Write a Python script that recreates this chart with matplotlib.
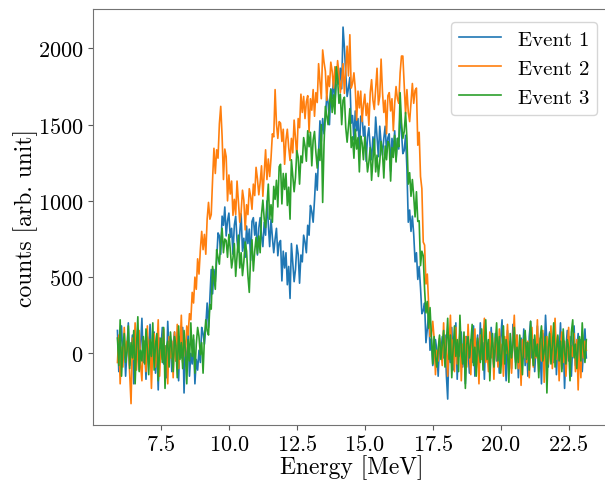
import numpy as np
import matplotlib
matplotlib.use("Agg")
import matplotlib.pyplot as plt

# energy grid: first bin and bin width [MeV]
e_start = 5.9
e_step = 0.05

series_names = ["Event 1", "Event 2", "Event 3"]

# counts, one row per MeV (20 bins)
event1 = [
    150, -120, 60, 180, -40, 90, -150, 30, 200, -80, 10, 120, -200, 70, -30, 160, -110, 40, 230, -60,
    80, -170, 110, -20, 190, -90, 20, 140, -130, 60, -240, 100, 30, 170, -70, 50, -160, 210, -10, 90,
    -120, 60, 140, -50, 20, -180, 110, -30, 170, -260, 40, -90, 130, -150, 0, -70, 90, -200, -40, -110,
    20, -60, 170, 130, 60, 180, 330, 170, 360, 550, 390, 550, 470, 610, 790, 770, 650, 900, 840, 960,
    770, 870, 920, 760, 820, 650, 840, 900, 740, 665, 790, 915, 670, 755, 630, 835, 720, 815, 610, 865,
    890, 775, 860, 645, 820, 890, 770, 700, 860, 775, 1000, 850, 700, 880, 760, 660, 750, 820, 640, 725,
    740, 475, 670, 560, 660, 450, 570, 360, 720, 595, 470, 550, 710, 650, 460, 645, 600, 775, 730, 660,
    840, 775, 970, 930, 860, 1005, 1180, 1070, 1310, 1525, 1390, 1540, 1440, 1545, 1690, 1645, 1500, 1735, 1670, 1810,
    1640, 1780, 1880, 1765, 1870, 1735, 2140, 2005, 1830, 1685, 1740, 1810, 1510, 1560, 1400, 1590, 1460, 1540, 1320, 1555,
    1560, 1425, 1490, 1260, 1420, 1480, 1350, 1270, 1420, 1330, 1550, 1420, 1290, 1490, 1380, 1300, 1410, 1490, 1320, 1415,
    1440, 1195, 1410, 1330, 1460, 1270, 1410, 1340, 1590, 1450, 1310, 1330, 1430, 1210, 860, 940, 800, 900, 780, 600,
    660, 485, 570, 430, 260, 280, 330, 70, 160, 265, 20, 95, -80, -15, 90, 20, -150, 70, -10, 110,
    -30, 120, -140, -300, 80, -60, 170, -110, 30, 200, -170, 60, -20, 140, -90, 40, -200, 110, 10, -130,
    90, -60, 180, -150, 30, 120, -80, 200, -20, 70, -170, 140, -40, 60, -110, 170, 0, -90, 130, -50,
    50, -130, 100, 220, -70, 30, -180, 150, -20, 80, -100, 190, 40, -60, 120, -160, 20, 100, -40, 160,
    -80, 70, -150, 110, 210, -30, 90, -120, 40, 180, -70, 20, -200, 130, -10, 250, 60, -90, 140, -40,
    100, -60, 170, -140, 50, -20, 200, -100, 80, -230, 30, 150, -50, 110, -150, 60, 180, -80, 20, 130,
    -70, 90, -120, 40, 160, -30,
]

event2 = [
    -60, 120, -200, 40, -90, 170, -20, 80, 60, -140, -330, 100, -40, 200, -110, 30, 150, -70, -180, 90,
    20, -120, 180, -60, 90, -230, 40, 130, -90, 10, 220, -150, 70, -40, 160, -100, 50, -200, 110, -30,
    80, -160, 140, -50, 190, -100, 30, 250, -60, 110, -20, 180, 120, 260, 220, 400, 330, 500, 420, 620,
    520, 680, 800, 680, 780, 650, 880, 990, 880, 910, 1140, 1345, 1180, 1335, 1280, 1505, 1620, 1425, 1140, 1340,
    1290, 1000, 1170, 1045, 1130, 905, 1010, 910, 1130, 995, 860, 925, 1070, 1005, 810, 975, 910, 1080, 1030, 945,
    1110, 1035, 1220, 1145, 1040, 1120, 1230, 1030, 1180, 1335, 1140, 1275, 1160, 1280, 1440, 1420, 1730, 1505, 1410, 1520,
    1510, 1390, 1470, 1240, 1400, 1470, 1350, 1265, 1410, 1315, 1530, 1410, 1290, 1540, 1480, 1700, 1580, 1685, 1540, 1650,
    1690, 1450, 1670, 1595, 1730, 1555, 1710, 1645, 1900, 1785, 1670, 1990, 1910, 1850, 1660, 1820, 1750, 1910, 1850, 1740,
    1880, 1770, 1920, 1830, 1710, 1790, 1900, 1705, 1860, 2015, 1820, 2090, 1740, 1770, 1840, 1735, 1530, 1720, 1610, 1720,
    1520, 1630, 1700, 1560, 1640, 1495, 1710, 1795, 1660, 1600, 1740, 1870, 1630, 1685, 1930, 1715, 1580, 1660, 1440, 1690,
    1710, 1590, 1670, 1460, 1640, 1750, 1670, 1640, 1840, 1950, 1950, 1760, 1570, 1730, 1580, 1520, 1650, 1770, 1640, 1725,
    1740, 1365, 1450, 1160, 1080, 730, 710, 455, 520, 315, 110, 120, 210, 100, -140, 20, -50, 100, 30, -80,
    200, -60, 100, -150, 40, 250, -20, 90, -120, 170, -70, 30, 140, -180, 60, -30, 110, -90, 190, -10,
    -140, 80, 30, 160, -100, 50, -200, 120, -40, 90, 230, -60, 10, -120, 140, -30, 70, -170, 100, 40,
    -90, 160, -20, 60, -150, 110, 0, 190, -70, 30, -130, 80, 250, -40, 120, -100, 50, -210, 90, -30,
    130, -60, 80, -160, 20, 170, -90, 60, -30, 220, -120, 100, -50, 150, -190, 40, 110, -70, 10, 180,
    -100, 60, 230, -40, 110, -180, 30, 140, -60, 80, -150, 20, 170, -90, 50, -20, 130, -120, 90, -240,
    60, -160, 120, -30, 80, 20,
]

event3 = [
    100, -80, 220, -150, 40, 130, -60, 10, 180, -100, 70, -30, 150, -200, 50, 240, -120, 20, -50, 110,
    -70, 160, 30, -140, 90, -20, 200, -110, 60, 130, -180, 20, 100, -60, 170, -230, 40, 80, -90, 140,
    30, -120, 110, 50, -160, 180, -40, 70, -100, 150, 10, -200, 90, -50, 200, -20, 120, -130, 60, 170,
    110, -10, 70, -130, 100, 220, 150, 120, 320, 290, 570, 495, 420, 680, 630, 585, 730, 820, 660, 750,
    740, 630, 780, 685, 560, 625, 720, 505, 640, 775, 560, 660, 510, 600, 730, 670, 510, 400, 640, 745,
    540, 670, 760, 655, 770, 660, 910, 1005, 880, 825, 970, 1110, 880, 975, 860, 1095, 1010, 1135, 960, 1225,
    1240, 980, 1180, 1075, 1180, 970, 1090, 880, 1270, 1165, 1060, 1155, 1330, 1285, 1110, 1295, 1250, 1415, 1360, 1260,
    1460, 1355, 1450, 1230, 1400, 1455, 1320, 1215, 1340, 1265, 1500, 990, 1370, 1620, 1560, 1500, 1630, 1730, 1580, 1695,
    1570, 1880, 1800, 1640, 1700, 1500, 1660, 1680, 1480, 1385, 1490, 1605, 1350, 1420, 1280, 1470, 1340, 1415, 1190, 1425,
    1380, 1270, 1420, 1320, 1190, 1255, 1350, 1135, 1270, 1405, 1190, 1300, 1160, 1255, 1390, 1320, 1150, 1360, 1270, 1390,
    1370, 1130, 1350, 1285, 1430, 1255, 1410, 1355, 1710, 1515, 1410, 1455, 1580, 1410, 1110, 1185, 1030, 1140, 1030, 895,
    1060, 865, 870, 575, 670, 640, 420, 265, 340, 165, 300, 115, -70, 110, -20, -90, 30, 120, -40, 60,
    150, -90, 60, 230, -40, 120, -160, 30, 180, -20, 90, -120, 250, 10, -70, 140, -230, 60, 110, -30,
    70, 190, -80, 40, -150, 100, 20, -60, 160, -110, 50, 220, -40, 90, -180, 30, 130, -90, 60, 200,
    -50, 110, -130, 20, 180, -70, 90, 10, -190, 130, -30, 60, 170, -100, 40, -60, 120, 0, -140, 80,
    150, -40, 70, -110, 210, 30, -80, 120, -20, 60, -160, 90, 180, -50, 20, 110, -260, 40, 130, -70,
    50, 200, -90, 30, 120, -50, 80, -120, 160, 10, -70, 90, 40, -180, 140, 220, -30, 60, -100, 70,
    110, -50, 200, 30, -60, 90,
]

plt.rcParams['font.family'] = 'serif'
plt.rcParams['font.serif'] = ['cmr10']
plt.rcParams['mathtext.fontset'] = 'cm'
plt.rcParams['axes.formatter.use_mathtext'] = True

fig = plt.figure(figsize=(6.05, 4.81), dpi=100)
# the right edge of the axes runs just past the picture, as in the reference
ax = fig.add_axes([0.1537, 0.115, 0.8545, 0.864])

for name, counts in zip(series_names, [event1, event2, event3]):
    energy = e_start + e_step * np.arange(len(counts))
    ax.plot(energy, counts, linewidth=1.2, label=name)

ax.set_xlim(5.0, 24.02)
ax.set_ylim(-468, 2258)
ax.set_xticks([7.5, 10.0, 12.5, 15.0, 17.5, 20.0, 22.5])
ax.set_yticks([0, 500, 1000, 1500, 2000])
ax.tick_params(labelsize=16, color='0.35')
for spine in ax.spines.values():
    spine.set_color('0.45')
ax.set_xlabel('Energy [MeV]', fontsize=17, labelpad=0)
ax.set_ylabel('counts [arb. unit]', fontsize=17, labelpad=0)
ax.legend(loc='upper right', fontsize=15, borderaxespad=0.6)

fig.savefig('out.png', dpi=100)
plt.close(fig)
